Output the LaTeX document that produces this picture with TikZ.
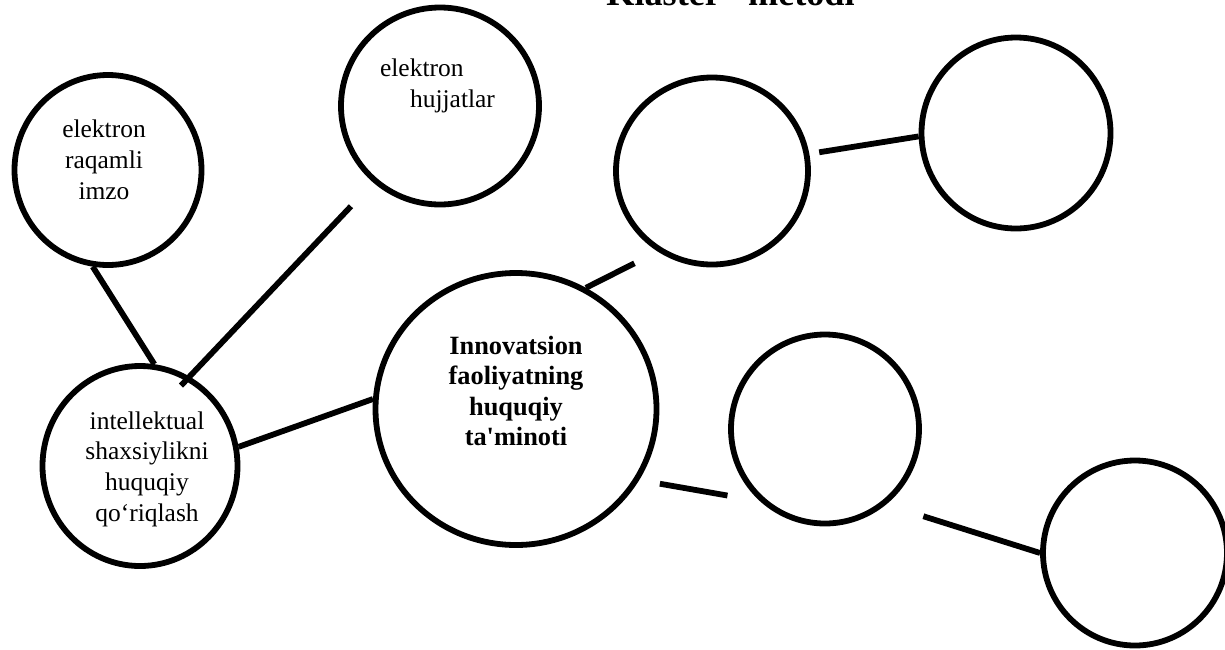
\documentclass[tikz,border=0pt]{standalone}
\usepackage{fontspec}
\setmainfont{Liberation Serif}
\usetikzlibrary{shapes}

\begin{document}
\begin{tikzpicture}[blob/.style={ellipse, draw=black, line width=3.3pt, inner sep=0pt},
    txt/.style={align=center, inner sep=0pt, font=\fontsize{14.5}{17.5}\selectfont},
    every edge/.style={draw, line width=3.3pt}
    ]
    \useasboundingbox (0,0) rectangle (24.5,-12.98);
    
    % title, cut off by the top edge
    \node[anchor=base east, inner sep=0pt, font=\bfseries\fontsize{20.6}{24}\selectfont] (title) at (17.1,-0.1) {“Klaster” metodi};
    
    % circles with text
    \node[blob, minimum width=3.74cm, minimum height=3.80cm] (A) at (2.16,-3.40) {};
    \node[blob, minimum width=3.96cm, minimum height=3.94cm] (B) at (8.80,-2.12) {};
    \node[blob, minimum width=3.90cm, minimum height=4.00cm] (C) at (2.80,-9.32) {};
    \node[blob, minimum width=5.62cm, minimum height=5.44cm] (D) at (10.32,-8.18) {};
    
    \node[txt] (Atext) at ([xshift=-0.08cm, yshift=0.2cm]A.center) {elektron\\raqamli\\imzo};
    \node[txt, align=left] (Btext) at ([xshift=-0.05cm, yshift=0.4cm]B.center) {elektron\\\hspace*{0.6cm}hujjatlar};
    \node[txt] (Ctext) at ([xshift=0.14cm, yshift=-0.06cm]C.center) {intellektual\\shaxsiylikni\\huquqiy\\qo‘riqlash};
    \node[txt, font=\bfseries\fontsize{15}{17.4}\selectfont] (Dtext) at ([yshift=0.36cm]D.center) {Innovatsion\\faoliyatning\\huquqiy\\ta\textquotesingle minoti};
    
    % empty circles
    \foreach \name/\x/\y/\w/\h in {E/14.24/-3.42/3.84/3.74, F/20.32/-2.66/3.78/3.82,
        G/16.50/-8.58/3.76/3.78, H/22.70/-11.06/3.68/3.70} {
        \node[blob, minimum width=\w cm, minimum height=\h cm] (\name) at (\x,\y) {};
    }
    
    % connectors, some with gaps at the ends
    \path (A.261) edge (C.82)
    (B.229) edge[shorten <=0.65cm, shorten >=-0.25cm] (C.61)
    (C.11) edge (D.176)
    (D.60) edge[shorten >=0.52cm] (E.236)
    (E.10) edge[shorten <=0.2cm] (F.182)
    (D.330) edge[shorten <=0.42cm, shorten >=0.66cm] (G.228)
    (G.309) edge[shorten <=0.78cm] (H.180)
    ;
    
\end{tikzpicture}
\end{document}
